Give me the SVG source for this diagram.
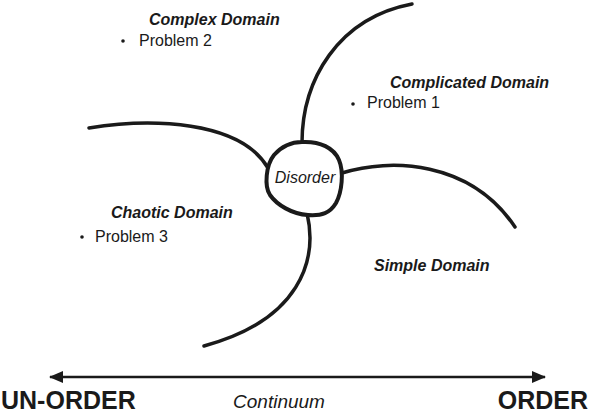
<svg xmlns="http://www.w3.org/2000/svg" width="590" height="413" viewBox="0 0 590 413">
  <style>
    .curve { fill: none; stroke: #1a1a1a; stroke-width: 3.5; stroke-linecap: round; }
    .blob { fill: #ffffff; stroke: #1a1a1a; stroke-width: 4; }
    .domain { font-family: "Liberation Sans", Arial, sans-serif; font-size: 16px; font-weight: bold; font-style: italic; fill: #1a1a1a; }
    .item { font-family: "Liberation Sans", Arial, sans-serif; font-size: 16px; fill: #1a1a1a; }
    .dot { fill: #1a1a1a; }
    .pole { font-family: "Liberation Sans", Arial, sans-serif; font-size: 25px; font-weight: bold; fill: #1a1a1a; }
    .axis { font-family: "Liberation Sans", Arial, sans-serif; font-size: 19px; font-style: italic; fill: #1a1a1a; }
  </style>
  <defs>
    <marker id="head" viewBox="0 0 14 12" refX="13" refY="6" markerWidth="14" markerHeight="12" markerUnits="userSpaceOnUse" orient="auto-start-reverse">
      <path d="M0,0 L14,6 L0,12 Z" fill="#1a1a1a"/>
    </marker>
  </defs>

  <!-- boundary curves radiating from the centre -->
  <g id="connectors">
    <path class="curve" d="M302,143 C302,80 338,18 412,4"/>
    <path class="curve" d="M342,173 C390,158 470,160 515,227"/>
    <path class="curve" d="M307,213 C318,260 300,320 204,346"/>
    <path class="curve" d="M89,128 C150,118 240,120 268,168"/>
    <line x1="50" y1="377" x2="545" y2="377" stroke="#1a1a1a" stroke-width="2.5" marker-start="url(#head)" marker-end="url(#head)"/>
  </g>

  <g id="disorder">
    <path class="blob" d="M302,142 C320,141 334,148 339,160 C344,172 342,192 336,203 C330,213 322,216 308,215 C292,214 277,205 270,195 C264,186 266,165 274,155 C282,146 292,142 302,142 Z"/>
    <text class="item" x="305" y="183" text-anchor="middle" font-style="italic">Disorder</text>
  </g>

  <g id="complex">
    <text class="domain" x="149" y="25">Complex Domain</text>
    <circle class="dot" cx="123" cy="41" r="1.8"/>
    <text class="item" x="139" y="46">Problem 2</text>
  </g>

  <g id="complicated">
    <text class="domain" x="390" y="88">Complicated Domain</text>
    <circle class="dot" cx="353" cy="104" r="1.8"/>
    <text class="item" x="367" y="108">Problem 1</text>
  </g>

  <g id="chaotic">
    <text class="domain" x="111" y="218">Chaotic Domain</text>
    <circle class="dot" cx="82" cy="237" r="1.8"/>
    <text class="item" x="95" y="242">Problem 3</text>
  </g>

  <g id="simple">
    <text class="domain" x="374" y="271">Simple Domain</text>
  </g>

  <g id="scale">
    <text class="pole" x="1" y="409">UN-ORDER</text>
    <text class="axis" x="279" y="408" text-anchor="middle">Continuum</text>
    <text class="pole" x="588" y="409" text-anchor="end">ORDER</text>
  </g>
</svg>
